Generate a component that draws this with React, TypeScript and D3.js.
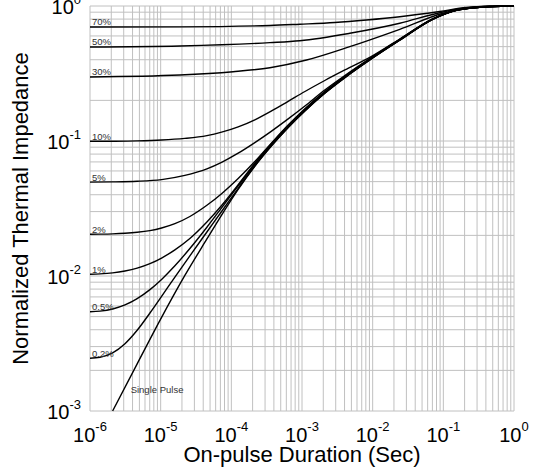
import React from "react";
import * as d3 from "d3";

type Pt = [number, number];

const xTickValues = [1e-6, 1e-5, 1e-4, 1e-3, 1e-2, 1e-1, 1];
const xTickExponents = ["-6", "-5", "-4", "-3", "-2", "-1", "0"];
const yTickValues = [1e-3, 1e-2, 1e-1, 1];
const yTickExponents = ["-3", "-2", "-1", "0"];

const singlePulse: Pt[] = [
  [2.09e-6, 0.001], [4.65e-6, 0.002233], [1.03e-5, 0.004935], [2.2e-5, 0.01009],
  [4.51e-5, 0.0188], [7.28e-5, 0.0283], [1.25e-4, 0.04387], [2.15e-4, 0.06497],
  [3.71e-4, 0.09198], [6.37e-4, 0.1257], [1.1e-3, 0.1671], [2.1e-3, 0.2256],
  [4.04e-3, 0.2944], [9.11e-3, 0.3981], [2.42e-2, 0.5579], [7.15e-2, 0.7986],
  [0.153, 0.9293], [0.327, 0.9781], [1, 1],
];
const duty02: Pt[] = [
  [1e-6, 0.002457], [1.385e-6, 0.002499], [2.09e-6, 0.002694], [3.125e-6, 0.003151],
  [4.65e-6, 0.003961], [7.05e-6, 0.00532], [1.03e-5, 0.007062], [1.59e-5, 0.009815],
  [2.59e-5, 0.01411], [4.51e-5, 0.02118], [7.28e-5, 0.03005], [1.25e-4, 0.04463],
  [2.15e-4, 0.06553], [3.71e-4, 0.09245], [6.37e-4, 0.1261], [1.1e-3, 0.1674],
  [2.1e-3, 0.226], [4.04e-3, 0.2949], [9.11e-3, 0.3989], [2.42e-2, 0.5589],
  [7.15e-2, 0.7998], [0.153, 0.9293], [0.327, 0.9781], [1, 1],
];
const duty05: Pt[] = [
  [1e-6, 0.00544], [1.385e-6, 0.005495], [2.09e-6, 0.005695], [3.125e-6, 0.006106],
  [4.65e-6, 0.006803], [7.05e-6, 0.00793], [1.03e-5, 0.009436], [1.59e-5, 0.0119],
  [2.59e-5, 0.01598], [4.51e-5, 0.02298], [7.28e-5, 0.032], [1.25e-4, 0.04649],
  [2.15e-4, 0.06733], [3.71e-4, 0.09389], [6.37e-4, 0.1274], [1.1e-3, 0.1685],
  [2.1e-3, 0.2272], [4.04e-3, 0.2959], [9.11e-3, 0.3995], [2.42e-2, 0.5599],
  [7.15e-2, 0.7998], [0.153, 0.9293], [0.327, 0.9781], [1, 1],
];
const duty1: Pt[] = [
  [1e-6, 0.01029], [1.385e-6, 0.01036], [2.09e-6, 0.01054], [3.125e-6, 0.01089],
  [4.65e-6, 0.01144], [7.05e-6, 0.01235], [1.03e-5, 0.01359], [1.59e-5, 0.01563],
  [2.59e-5, 0.01896], [4.51e-5, 0.02512], [7.28e-5, 0.03327], [1.25e-4, 0.04739],
  [2.15e-4, 0.06848], [3.71e-4, 0.09583], [6.37e-4, 0.1299], [1.1e-3, 0.1717],
  [2.1e-3, 0.2307], [4.04e-3, 0.2999], [9.11e-3, 0.4037], [2.42e-2, 0.5628],
  [7.15e-2, 0.8012], [0.153, 0.931], [0.327, 0.9781], [1, 1],
];
const duty2: Pt[] = [
  [1e-6, 0.02037], [1.385e-6, 0.02041], [2.09e-6, 0.02051], [3.125e-6, 0.02072],
  [4.65e-6, 0.02107], [7.05e-6, 0.02169], [1.03e-5, 0.02267], [1.59e-5, 0.0244],
  [2.59e-5, 0.02759], [4.51e-5, 0.0334], [7.28e-5, 0.04071], [1.25e-4, 0.05275],
  [2.15e-4, 0.07039], [3.71e-4, 0.09665], [6.37e-4, 0.1312], [1.1e-3, 0.1735],
  [2.1e-3, 0.2322], [4.04e-3, 0.3015], [9.11e-3, 0.4051], [2.42e-2, 0.5637],
  [7.15e-2, 0.8012], [0.153, 0.931], [0.327, 0.9781], [1, 1],
];
const duty5: Pt[] = [
  [1e-6, 0.04961], [2.09e-6, 0.04977], [4.65e-6, 0.05029], [1.03e-5, 0.05177],
  [2.2e-5, 0.05561], [4.51e-5, 0.06223], [7.28e-5, 0.06953], [1.25e-4, 0.08122],
  [2.15e-4, 0.0973], [3.71e-4, 0.1184], [6.37e-4, 0.1458], [1.1e-3, 0.1817],
  [2.1e-3, 0.2385], [4.04e-3, 0.3056], [9.11e-3, 0.4078], [2.42e-2, 0.5656],
  [7.15e-2, 0.8025], [0.153, 0.9325], [0.327, 0.9797], [1, 1],
];
const duty10: Pt[] = [
  [1e-6, 0.09949], [2.09e-6, 0.09966], [4.65e-6, 0.1002], [1.03e-5, 0.1016],
  [2.2e-5, 0.1045], [4.51e-5, 0.1096], [7.28e-5, 0.1162], [1.25e-4, 0.1272],
  [2.15e-4, 0.1436], [3.71e-4, 0.1671], [6.37e-4, 0.1968], [1.1e-3, 0.2326],
  [2.1e-3, 0.2806], [4.04e-3, 0.3357], [9.11e-3, 0.4162], [2.42e-2, 0.5695],
  [7.15e-2, 0.8052], [0.153, 0.9325], [0.327, 0.9797], [1, 1],
];
const duty30: Pt[] = [
  [1e-6, 0.298], [1.87e-5, 0.308], [1.06e-4, 0.326], [3.51e-4, 0.349],
  [1.16e-3, 0.398], [4.75e-3, 0.5], [2.42e-2, 0.672], [9.9e-2, 0.883],
  [0.212, 0.958], [0.453, 0.995], [1, 1],
];
const duty50: Pt[] = [
  [1e-6, 0.497], [1.87e-5, 0.506], [3.51e-4, 0.535], [9.32e-4, 0.553],
  [4.75e-3, 0.628], [2.42e-2, 0.745], [8.89e-2, 0.892], [0.212, 0.966],
  [0.453, 0.995], [1, 1],
];
const duty70: Pt[] = [
  [1e-6, 0.699], [1.87e-5, 0.701], [3.51e-4, 0.717], [9.32e-4, 0.733],
  [2.91e-3, 0.755], [8.18e-3, 0.788], [2.42e-2, 0.833], [8.89e-2, 0.911],
  [0.212, 0.975], [0.453, 0.995], [1, 1],
];

const dutyLabels = ["70%", "50%", "30%", "10%", "5%", "2%", "1%", "0.5%", "0.2%"];
const dutySeries = [duty70, duty50, duty30, duty10, duty5, duty2, duty1, duty05, duty02];
const singlePulseLabel = "Single Pulse";
const singlePulseLabelAt: Pt = [3.76e-6, 1.36e-3];

const xTitle = "On-pulse Duration (Sec)";
const yTitle = "Normalized Thermal Impedance";

const W = 536;
const H = 471;
const M = { left: 90, right: 514, top: 6, bottom: 411 };
const FONT = "'Liberation Sans', Arial, Helvetica, sans-serif";

export default function App() {
  const x = d3.scaleLog().domain([1e-6, 1]).range([M.left, M.right]);
  const y = d3.scaleLog().domain([1e-3, 1]).range([M.bottom, M.top]);
  const line = d3
    .line<Pt>()
    .x((d) => x(d[0]))
    .y((d) => y(d[1]))
    .curve(d3.curveMonotoneX);

  const xGrid = x.ticks();
  const yGrid = y.ticks();

  return (
    <svg
      width={W}
      height={H}
      style={{ position: "absolute", left: 0, top: 0, background: "#fff" }}
      fontFamily={FONT}
    >
      <rect x={0} y={0} width={W} height={H} fill="#fff" />
      <g stroke="#c0c0c0" strokeWidth={1}>
        {xGrid.map((v, i) => (
          <line key={"gx" + i} x1={x(v)} x2={x(v)} y1={M.top} y2={M.bottom} />
        ))}
        {yGrid.map((v, i) => (
          <line key={"gy" + i} x1={M.left} x2={M.right} y1={y(v)} y2={y(v)} />
        ))}
      </g>
      <g fill="none" stroke="#000" strokeWidth={1.4} strokeLinejoin="round">
        {dutySeries.map((s, i) => (
          <path key={"d" + i} d={line(s) || ""} />
        ))}
        <path d={line(singlePulse) || ""} />
      </g>
      <g fontSize={9.5} fill="#333">
        {dutySeries.map((s, i) => (
          <text key={"l" + i} x={M.left + 2} y={y(s[0][1]) - 1.5}>
            {dutyLabels[i]}
          </text>
        ))}
        <text x={x(singlePulseLabelAt[0])} y={y(singlePulseLabelAt[1])}>
          {singlePulseLabel}
        </text>
      </g>
      <g fill="#000">
        {xTickValues.map((v, i) => (
          <text key={"xt" + i} x={x(v)} y={441.7} textAnchor="middle" fontSize={20}>
            10
            <tspan fontSize={13} dy={-11}>
              {xTickExponents[i]}
            </tspan>
          </text>
        ))}
        {yTickValues.map((v, i) => (
          <text key={"yt" + i} x={81} y={y(v) + 8} textAnchor="end" fontSize={20}>
            10
            <tspan fontSize={13} dy={-10}>
              {yTickExponents[i]}
            </tspan>
          </text>
        ))}
        <text x={(M.left + M.right) / 2} y={461.5} textAnchor="middle" fontSize={22}>
          {xTitle}
        </text>
        <text
          transform={`translate(28.3, ${(M.top + M.bottom) / 2}) rotate(-90)`}
          textAnchor="middle"
          fontSize={22}
        >
          {yTitle}
        </text>
      </g>
    </svg>
  );
}
